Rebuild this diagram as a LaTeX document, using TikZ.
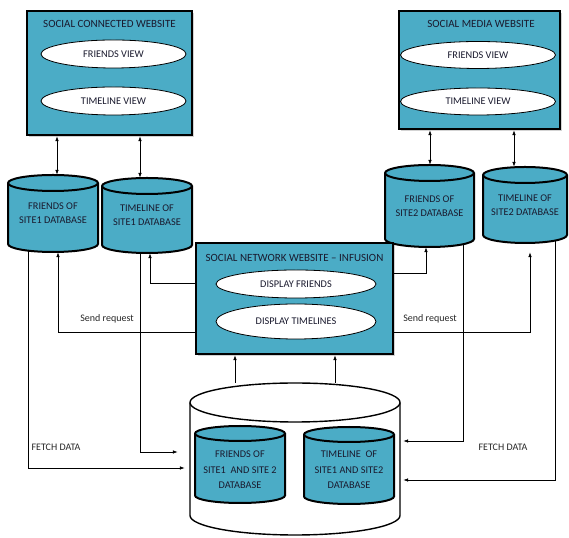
\documentclass[tikz,border=0pt]{standalone}
\usepackage{fontspec}
\setmainfont{Carlito}
\usetikzlibrary{arrows.meta,shapes.geometric,shadows,calc}
\definecolor{tealfill}{HTML}{4BACC6}
\definecolor{inktext}{HTML}{1A1A2E}
\tikzset{
  sitebox/.style={draw=black, line width=2.3pt, fill=tealfill,
    drop shadow={shadow xshift=1.6pt, shadow yshift=-1.6pt, opacity=0.35}},
  boxtitle/.style={font=\fontsize{11}{13}\selectfont, text=inktext, inner sep=0pt},
  viewell/.style={ellipse, draw=black, line width=0.8pt, fill=white, inner sep=0pt,
    font=\fontsize{10.3}{12}\selectfont, text=inktext},
  dbline/.style={draw=black, line width=2pt},
  bigline/.style={draw=black, line width=1.4pt},
  dbnode/.style={inner sep=0pt, align=center, font=\fontsize{10.3}{14}\selectfont, text=inktext},
  conn/.style={draw=black, line width=0.75pt},
  arr/.style={conn, -{Latex[length=5pt,width=3.6pt]}},
  dblarr/.style={conn, {Latex[length=5pt,width=3.6pt]}-{Latex[length=5pt,width=3.6pt]}},
  lbl/.style={font=\fontsize{10}{12}\selectfont, text=black!85, inner sep=0pt}
}
% #1 name, #2 cx, #3 cy, #4 width, #5 height, #6 ellipse y radius, #7 line style, #8 fill, #9 text
\newcommand\dbcyl[9]{%
  \filldraw[#7, fill=#8] ({#2-#4/2},{#3+#5/2-#6}) -- ({#2-#4/2},{#3-#5/2+#6})
    arc[start angle=180,end angle=360,x radius={#4/2},y radius=#6]
    -- ({#2+#4/2},{#3+#5/2-#6})
    arc[start angle=0,end angle=180,x radius={#4/2},y radius=#6] -- cycle;
  \draw[#7] ({#2-#4/2},{#3+#5/2-#6})
    arc[start angle=180,end angle=360,x radius={#4/2},y radius=#6];
  \node[dbnode, minimum width=#4pt, minimum height=#5pt] (#1) at (#2,#3) {#9};
}
\begin{document}
\begin{tikzpicture}[x=1pt,y=1pt]
\useasboundingbox (0,0) rectangle (569,537);

% ---- top-left website
\node[sitebox, minimum width=165pt, minimum height=124pt] (tlbox) at (109.5,464) {};
\node[boxtitle] (tltitle) at (109.5,513) {SOCIAL CONNECTED WEBSITE};
\node[viewell, minimum width=145pt, minimum height=28pt] (tlf) at (113.5,483) {FRIENDS VIEW};
\node[viewell, minimum width=145pt, minimum height=28pt] (tlt) at (113.5,436) {TIMELINE VIEW};

% ---- top-right website
\node[sitebox, minimum width=161pt, minimum height=118pt] (trbox) at (479.5,467) {};
\node[boxtitle] (trtitle) at (481,513) {SOCIAL MEDIA WEBSITE};
\node[viewell, minimum width=155pt, minimum height=27pt] (trf) at (478,482) {FRIENDS VIEW};
\node[viewell, minimum width=155pt, minimum height=27pt] (trt) at (478,435.5) {TIMELINE VIEW};

% ---- databases
\dbcyl{c1}{53}{323.5}{90}{77}{8}{dbline}{tealfill}{FRIENDS OF\\SITE1 DATABASE}
\dbcyl{c2}{147}{321.5}{90}{75}{8}{dbline}{tealfill}{TIMELINE OF\\SITE1 DATABASE}
\dbcyl{c3}{429.5}{331}{89}{82}{8}{dbline}{tealfill}{FRIENDS OF\\SITE2 DATABASE}
\dbcyl{c4}{525}{332}{84}{76}{8}{dbline}{tealfill}{TIMELINE OF\\SITE2 DATABASE}

% ---- infusion website
\node[sitebox, minimum width=197pt, minimum height=111pt] (infbox) at (294.5,238.5) {};
\node[boxtitle] (inftitle) at (294.5,279) {SOCIAL NETWORK WEBSITE -- INFUSION};
\node[viewell, minimum width=160pt, minimum height=28pt] (inff) at (296,253) {DISPLAY FRIENDS};
\node[viewell, minimum width=160pt, minimum height=35pt] (inft) at (296,215.5) {DISPLAY TIMELINES};

% ---- combined database
\dbcyl{big}{295}{78}{210}{152}{19.5}{bigline}{white}{}
\dbcyl{c5}{240}{72.5}{90}{77}{7.5}{dbline}{tealfill}{}
\dbcyl{c6}{349}{71.5}{90}{77}{7.5}{dbline}{tealfill}{}
\node[dbnode, font=\fontsize{10.3}{15.5}\selectfont] (c5t) at (240,67) {FRIENDS OF\\SITE1\ \ AND SITE 2\\DATABASE};
\node[dbnode, font=\fontsize{10.3}{15.5}\selectfont] (c6t) at (349,67) {TIMELINE\ \ OF\\SITE1 AND SITE2\\DATABASE};

% ---- website <-> database links
\draw[dblarr] (57,0 |- tlbox.south) -- (57,0 |- c1.north);
\draw[dblarr] (140,0 |- tlbox.south) -- (140,0 |- c2.north);
\draw[dblarr] (430,0 |- trbox.south) -- (430,0 |- c3.north);
\draw[dblarr] (514,0 |- trbox.south) -- (514,0 |- c4.north);

% ---- send request links
\draw[arr] (infbox.west |- 0,254) -- (150,254) -- (150,0 |- c2.south);
\draw[arr] (infbox.west |- 0,205) -- (58,205) -- (58,0 |- c1.south);
\draw[arr] (infbox.east |- 0,264) -- (426,264) -- (426,0 |- c3.south);
\draw[arr, shorten >=9pt] (infbox.east |- 0,205) -- (530,205) -- (530,0 |- c4.south);
\node[lbl] (sr1) at (107,218) {Send request};
\node[lbl] (sr2) at (430,218) {Send request};

% ---- fetch data links
\draw[arr, shorten >=5pt] ($(c1.south -| 28,0)+(0,1.3)$) -- (28,69) -- (big.west |- 0,69);
\draw[arr, shorten >=12pt] ($(c2.south -| 140,0)+(0,0.2)$) -- (140,85) -- (big.west |- 0,85);
\draw[arr, shorten >=3pt] ($(c3.south -| 463,0)+(0,2.7)$) -- (463,96) -- (big.east |- 0,96);
\draw[arr, shorten >=3pt] ($(c4.south -| 555,0)+(0,2.4)$) -- (555,57) -- (big.east |- 0,57);
\node[lbl] (fd1) at (56,90) {FETCH DATA};
\node[lbl] (fd2) at (503,90) {FETCH DATA};

% ---- combined database -> infusion
\draw[arr] (235,0 |- big.north) -- (235,0 |- infbox.south);
\draw[arr] (335,0 |- big.north) -- (335,0 |- infbox.south);
\end{tikzpicture}
\end{document}
